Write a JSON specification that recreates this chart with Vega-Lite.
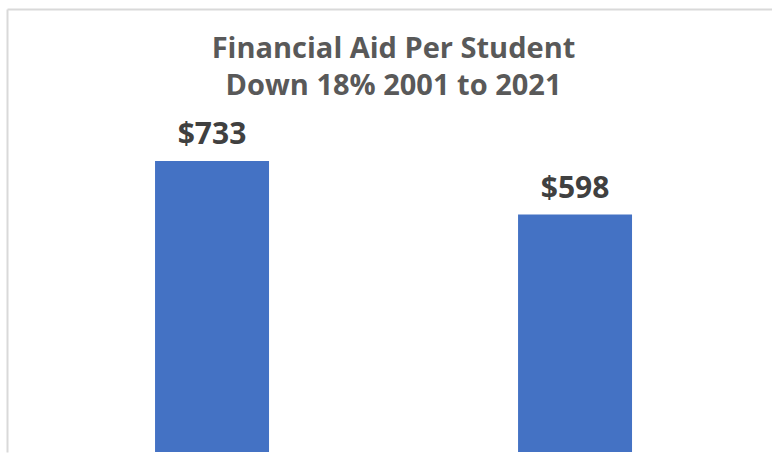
{
  "$schema": "https://vega.github.io/schema/vega-lite/v6.json",
  "width": 765,
  "height": 443,
  "autosize": {"type": "none"},
  "padding": {"left": 7, "top": 9, "right": 0, "bottom": 18},
  "background": "white",
  "config": {"view": {"stroke": null}},
  "title": {
    "text": ["Financial Aid Per Student", "Down 18% 2001 to 2021"],
    "font": "Open Sans",
    "fontWeight": "bold",
    "fontSize": 29,
    "color": "#595959",
    "anchor": "middle",
    "frame": "group",
    "baseline": "alphabetic",
    "lineHeight": 37,
    "offset": -115,
    "dx": 4
  },
  "data": {
    "values": [
      {"year": "2001", "aid": 733, "label": "$733"},
      {"year": "2021", "aid": 598, "label": "$598"}
    ]
  },
  "encoding": {
    "x": {
      "field": "year",
      "type": "nominal",
      "sort": null,
      "scale": {"paddingInner": 0.686, "paddingOuter": 0.3967, "align": 0.514},
      "axis": {"orient": "top", "title": null, "labels": false, "ticks": false, "domain": true, "domainColor": "#d9d9d9", "domainWidth": 2, "zindex": 1}
    },
    "y": {
      "field": "aid",
      "type": "quantitative",
      "scale": {"domain": [0, 1116], "nice": false, "zero": true},
      "axis": {"title": null, "labels": false, "ticks": false, "grid": false, "domainColor": "#d9d9d9", "domainWidth": 2}
    }
  },
  "layer": [
    {"mark": {"type": "bar", "color": "#4472C4"}},
    {
      "mark": {"type": "text", "font": "Open Sans", "fontWeight": "bold", "fontSize": 30, "color": "#404040", "baseline": "alphabetic", "dy": -17},
      "encoding": {"text": {"field": "label"}}
    }
  ]
}
